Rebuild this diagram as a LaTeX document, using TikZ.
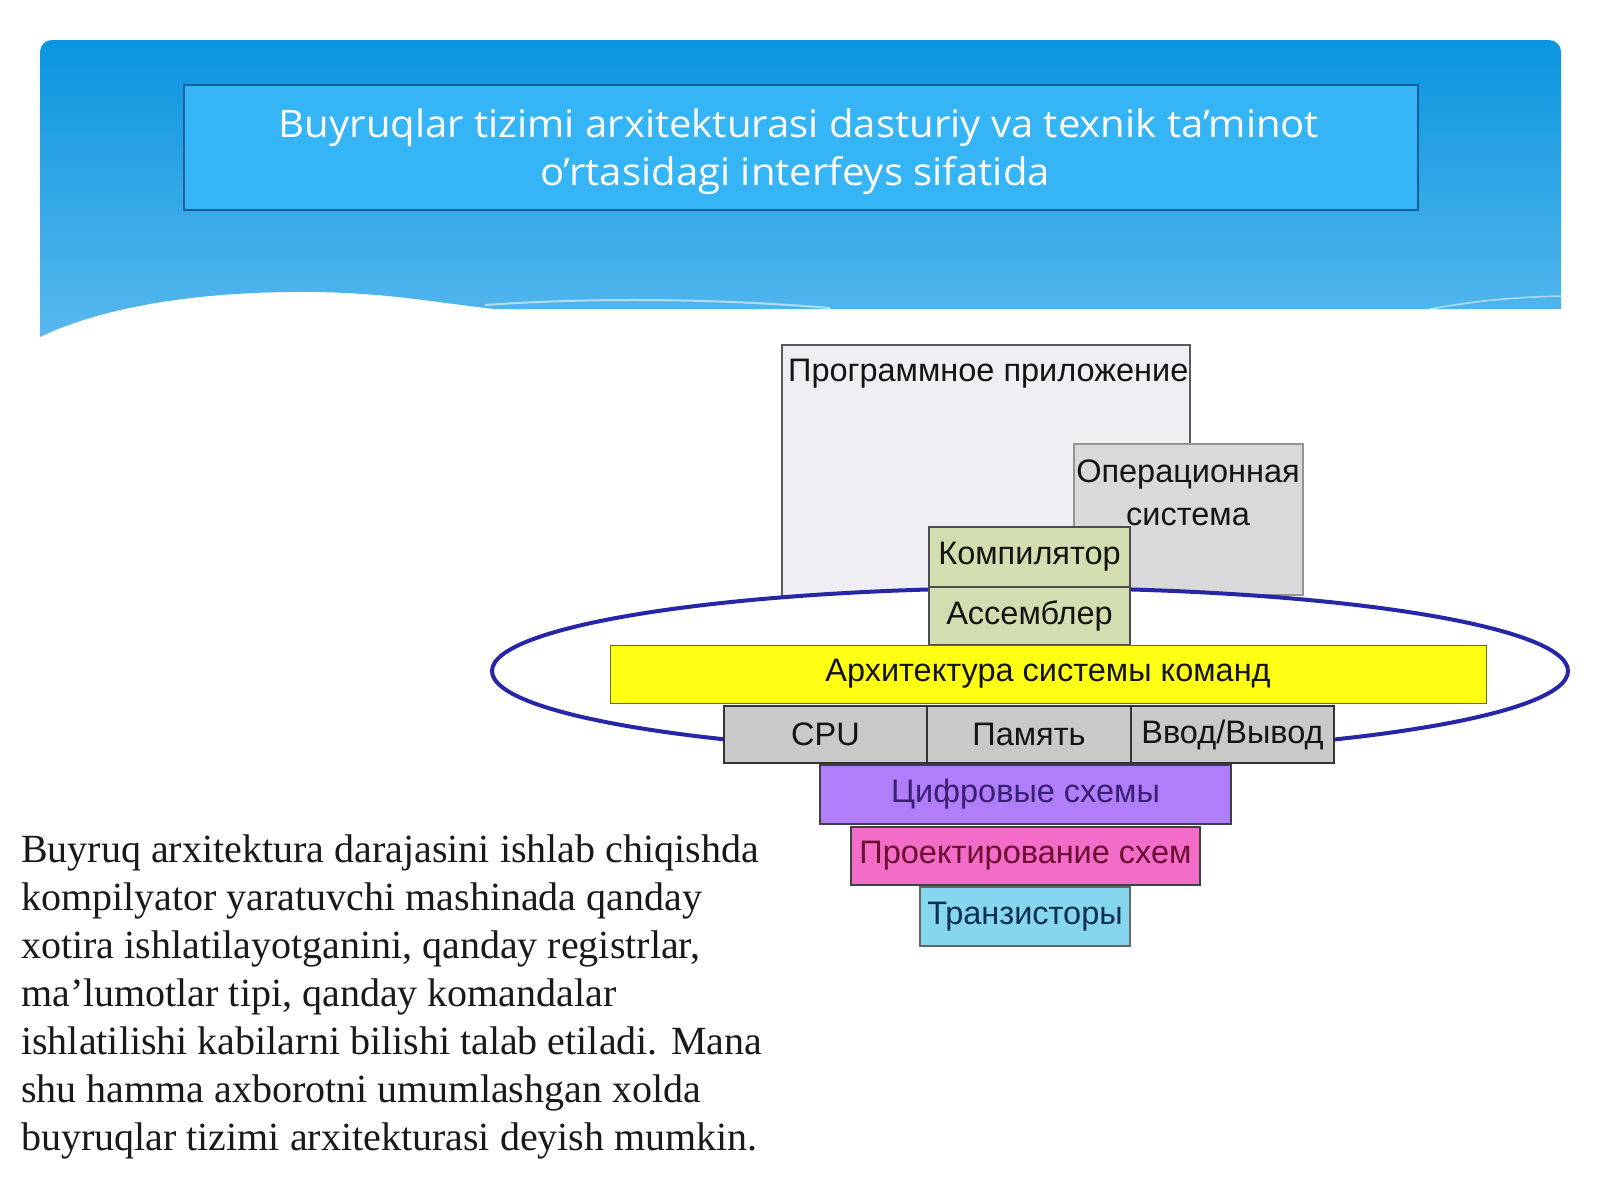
\documentclass[tikz,border=0pt]{standalone}
\usepackage{fontspec}
\usepackage{graphicx}
\setmainfont{Liberation Serif}
\newfontfamily\headfont{Open Sans}
\newfontfamily\diafont{Liberation Sans}
\usetikzlibrary{shapes.geometric}
\definecolor{hdtop}{HTML}{0A95DF}
\definecolor{hdbot}{HTML}{58B8EE}
\definecolor{titlefill}{HTML}{35B5F5}
\definecolor{titleline}{HTML}{1A5E9E}
\definecolor{progfill}{HTML}{EFEFF3}
\definecolor{osfill}{HTML}{D9D9DC}
\definecolor{greenfill}{HTML}{D3DEB0}
\definecolor{isafill}{HTML}{FFFF14}
\definecolor{hwfill}{HTML}{C9C9C9}
\definecolor{digfill}{HTML}{B07EF8}
\definecolor{digtext}{HTML}{3A1E72}
\definecolor{desfill}{HTML}{F26CC8}
\definecolor{destext}{HTML}{6A0F32}
\definecolor{trfill}{HTML}{86D6F0}
\definecolor{trtext}{HTML}{0F2F4F}
\definecolor{ringcol}{HTML}{2626A6}
\newcommand{\hdtext}[1]{\scalebox{1.055}[1]{#1}}
\tikzset{
  box/.style={rectangle, anchor=north west, inner sep=0pt, outer sep=0pt, line width=1.5pt,
    font=\diafont\fontsize{32.5}{38}\selectfont, text=black!92},
  hdline/.style={anchor=base, text=white, font=\headfont\fontsize{38}{47}\selectfont, inner sep=0pt},
  bodyline/.style={anchor=base west, inner sep=0pt, font=\fontsize{40}{48}\selectfont, text=black!90},
  dialabel/.style={inner sep=0pt, font=\diafont\fontsize{32.5}{38}\selectfont, text=black!92}
}
\begin{document}
\begin{tikzpicture}[x=1pt,y=-1pt]
\useasboundingbox (0,0) rectangle (1600,1200);
\fill[white] (0,0) rectangle (1600,1200);
% header band
\shade[top color=hdtop, bottom color=hdbot]
  (40,52) arc[start angle=180, end angle=90, radius=12pt] -- (1549,40)
  arc[start angle=90, end angle=0, radius=12pt] -- (1561,309) -- (495,309)
  .. controls (430,302) and (380,291) .. (290,292)
  .. controls (190,293) and (100,308) .. (40,337) -- cycle;
\draw[white, opacity=0.55, line width=2pt] (485,305) .. controls (600,297) and (720,299) .. (830,308);
\draw[white, opacity=0.55, line width=1.5pt] (1430,309) .. controls (1480,300) and (1520,297) .. (1561,296);
% title box
\node[rectangle, draw=titleline, fill=titlefill, line width=2pt, anchor=north west, inner sep=0pt,
  minimum width=1234pt, minimum height=125pt] (titlebox) at (183,84) {};
\node[hdline] (t1) at (799,137) {\hdtext{Buyruqlar tizimi arxitekturasi dasturiy va texnik ta’minot}};
\node[hdline] (t2) at (795,185) {\hdtext{o’rtasidagi interfeys sifatida}};
% upper software boxes
\node[box, draw=gray!70!black, fill=progfill, minimum width=408pt, minimum height=252pt] (prog) at (782,345) {};
\node[dialabel, anchor=base west] (progtxt) at (788,381) {Программное приложение};
\node[box, draw=gray!85, fill=osfill, minimum width=229pt, minimum height=151pt] (os) at (1074,444) {};
\node[dialabel, anchor=base] (ostxt1) at (1188,482) {Операционная};
\node[dialabel, anchor=base] (ostxt2) at (1188,525) {система};
% ring
\node[ellipse, draw=ringcol, fill=white, line width=4pt, minimum width=1076pt, minimum height=166pt, inner sep=0pt] (ring) at (1030,671) {};
% compiler, assembler
\node[box, draw=black!70, fill=greenfill, minimum width=201pt, minimum height=60pt] (comp) at (929,527) {Компилятор};
\node[box, draw=black!70, fill=greenfill, minimum width=201pt, minimum height=58pt] (asm) at (929,587) {Ассемблер};
% ISA
\node[box, draw=olive!70!black, line width=1pt, fill=isafill, minimum width=876pt, minimum height=58pt] (isa) at (610,645) {Архитектура системы команд};
% hardware
\node[box, draw=black!80, line width=2pt, fill=hwfill, minimum width=203pt, minimum height=57pt] (cpu) at (724,706) {CPU};
\node[box, draw=black!80, line width=2pt, fill=hwfill, minimum width=204pt, minimum height=57pt] (mem) at (927,706) {Память};
\node[box, draw=black!80, line width=2pt, fill=hwfill, minimum width=203pt, minimum height=57pt] (io) at (1131,706) {Ввод/Вывод};
\node[box, draw=black!75, fill=digfill, text=digtext, minimum width=411pt, minimum height=59pt] (dig) at (820,765) {Цифровые схемы};
\node[box, draw=black!75, fill=desfill, text=destext, minimum width=349pt, minimum height=58pt] (des) at (851,827) {Проектирование схем};
\node[box, draw=black!60, fill=trfill, text=trtext, minimum width=210pt, minimum height=59pt] (tr) at (920,887) {Транзисторы};
% body text
\node[bodyline] (b1) at (21,862) {Buyruq arxitektura darajasini ishlab chiqishda};
\node[bodyline] (b2) at (21,910) {kompilyator yaratuvchi mashinada qanday};
\node[bodyline] (b3) at (21,958) {xotira ishlatilayotganini, qanday registrlar,};
\node[bodyline] (b4) at (21,1006) {ma’lumotlar tipi, qanday komandalar};
\node[bodyline] (b5) at (21,1054) {ishlatilishi kabilarni bilishi talab etiladi. Mana};
\node[bodyline] (b6) at (21,1102) {shu hamma axborotni umumlashgan xolda};
\node[bodyline] (b7) at (21,1150) {buyruqlar tizimi arxitekturasi deyish mumkin.};
\end{tikzpicture}
\end{document}
